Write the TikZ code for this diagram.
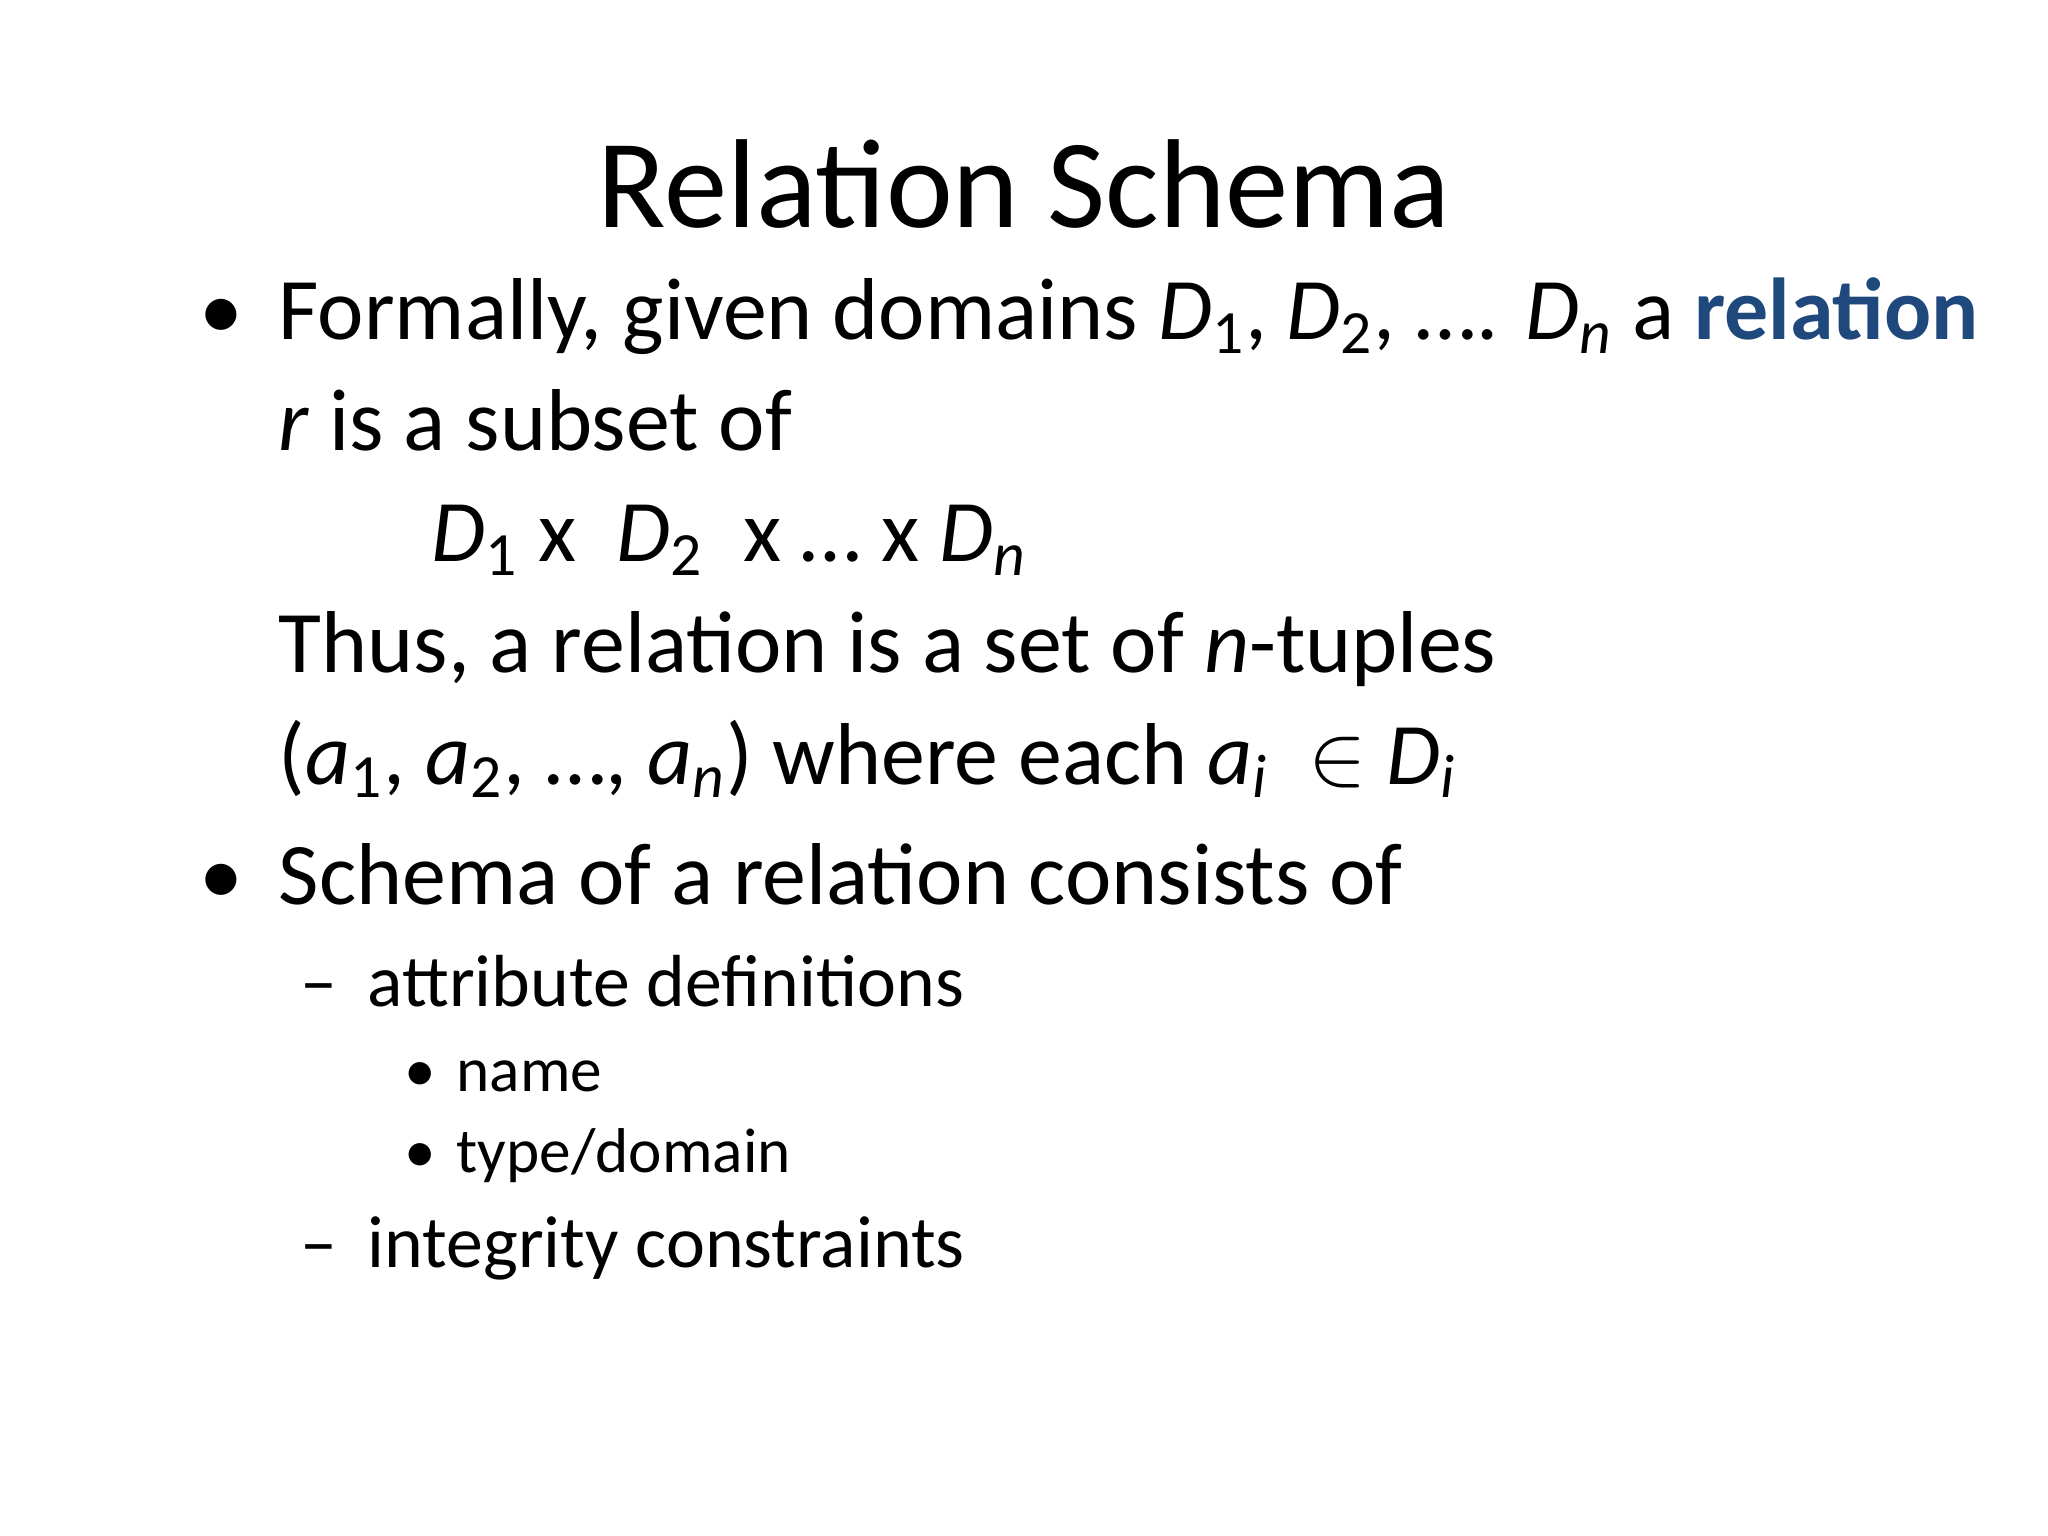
\documentclass[tikz,border=0pt]{standalone}
\usepackage{fontspec}
\setmainfont{Carlito}
\definecolor{relblue}{RGB}{31,73,125}
\newcommand{\sbs}[1]{\textsubscript{#1}}
\begin{document}
\begin{tikzpicture}[x=1cm,y=1cm,
  body/.style={anchor=base west,inner sep=0pt,font=\fontsize{25}{30}\selectfont},
  sub/.style={anchor=base west,inner sep=0pt,font=\fontsize{21}{25}\selectfont},
  subsub/.style={anchor=base west,inner sep=0pt,font=\fontsize{18}{22}\selectfont}]
\useasboundingbox[fill=white] (0,0) rectangle (20.48,-15.36);
\node[anchor=base,inner sep=0pt,font=\fontsize{36}{40}\selectfont] (title) at (10.24,-2.28) {Relation Schema};
\node[body] (b1) at (1.99,-3.40) {•};
\node[body] (l1) at (2.78,-3.40) {Formally, given domains \textit{D}\sbs{1}, \textit{D}\sbs{2}, …. \textit{D}\sbs{\textit{n}} a \textcolor{relblue}{\textbf{relation}}};
\node[body] (l2) at (2.78,-4.51) {\textit{r} is a subset of};
\node[body] (l3) at (4.31,-5.62) {\textit{D}\sbs{1} x~~\textit{D}\sbs{2}~~x … x \textit{D}\sbs{\textit{n}}};
\node[body] (l4) at (2.78,-6.73) {Thus, a relation is a set of \textit{n}-tuples};
\node[body] (l5) at (2.78,-7.84) {(\textit{a}\sbs{1}, \textit{a}\sbs{2}, …, \textit{a}\sbs{\textit{n}}) where each \textit{a}\sbs{\textit{i}}~~$\in$ \textit{D}\sbs{\textit{i}}};
\node[body] (b2) at (1.99,-9.04) {•};
\node[body] (l6) at (2.78,-9.04) {Schema of a relation consists of};
\node[sub] (d1) at (3.00,-10.06) {–};
\node[sub] (l7) at (3.67,-10.06) {attribute definitions};
\node[subsub] (s1) at (4.04,-10.91) {•};
\node[subsub] (l8) at (4.56,-10.91) {name};
\node[subsub] (s2) at (4.04,-11.72) {•};
\node[subsub] (l9) at (4.56,-11.72) {type/domain};
\node[sub] (d2) at (3.00,-12.67) {–};
\node[sub] (l10) at (3.67,-12.67) {integrity constraints};
\end{tikzpicture}
\end{document}
